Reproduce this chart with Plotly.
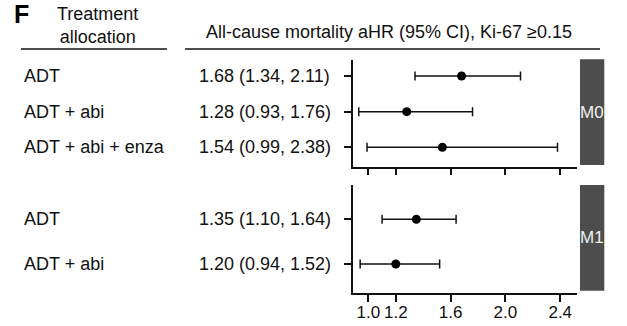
import plotly.graph_objects as go
from plotly.subplots import make_subplots

W, H = 627, 326

# ---- data ----
m0_labels = ["ADT", "ADT + abi", "ADT + abi + enza"]
m0_hr = [1.68, 1.28, 1.54]
m0_lo = [1.34, 0.93, 0.99]
m0_hi = [2.11, 1.76, 2.38]
m0_pos = [3, 2, 1]

m1_labels = ["ADT", "ADT + abi"]
m1_hr = [1.35, 1.20]
m1_lo = [1.10, 0.94]
m1_hi = [1.64, 1.52]
m1_pos = [2, 1]

panel_names = ["M0", "M1"]
x_ticks = [1.0, 1.2, 1.6, 2.0, 2.4]
x_ticktext = ["1.0", "1.2", "1.6", "2.0", "2.4"]
header_left = "Treatment<br>allocation"
header_right = "All-cause mortality aHR (95% CI), Ki-67 ≥0.15"
panel_letter = "F"

FONT = "Liberation Sans, Arial, sans-serif"
INK = "#111111"

def px_x(p):
    return p / W

def px_y(p):
    return 1 - p / H

fig = make_subplots(rows=2, cols=1, shared_xaxes=False, vertical_spacing=0.05)

def add_panel(row, hr, lo, hi, pos):
    fig.add_trace(
        go.Scatter(
            x=hr, y=pos, mode="markers",
            marker=dict(color="black", size=9),
            error_x=dict(
                type="data", symmetric=False,
                array=[h - m for h, m in zip(hi, hr)],
                arrayminus=[m - l for m, l in zip(hr, lo)],
                color=INK, thickness=1.5, width=4.5,
            ),
            showlegend=False, hoverinfo="skip",
        ),
        row=row, col=1,
    )

add_panel(1, m0_hr, m0_lo, m0_hi, m0_pos)
add_panel(2, m1_hr, m1_lo, m1_hi, m1_pos)

xdom = [px_x(353.3), px_x(576.7)]
xrange = [0.89, 2.52]
common_x = dict(
    range=xrange, domain=xdom, showline=True, linecolor=INK, linewidth=1.5,
    ticks="outside", ticklen=7, tickwidth=1.5, tickcolor=INK,
    tickvals=x_ticks, ticktext=x_ticktext, showgrid=False, zeroline=False,
    tickangle=0, automargin=False,
    tickfont=dict(family=FONT, size=17, color=INK),
)
fig.update_xaxes(**common_x, showticklabels=False, row=1, col=1)
fig.update_xaxes(**common_x, showticklabels=True, ticklabelstandoff=-4, row=2, col=1)

common_y = dict(
    showline=True, linecolor=INK, linewidth=1.5, ticks="outside", ticklen=8,
    tickwidth=1.5, tickcolor=INK, showticklabels=False, showgrid=False,
    zeroline=False, automargin=False,
)
fig.update_yaxes(**common_y, range=[0.457, 3.448], tickvals=m0_pos,
                 domain=[px_y(166.7), px_y(60)], row=1, col=1)
fig.update_yaxes(**common_y, range=[0.35, 2.77], tickvals=m1_pos,
                 domain=[px_y(293), px_y(185)], row=2, col=1)

annotations = []
def row_text(labels, hr, lo, hi, pos, yref):
    for lab, h, l, u, p in zip(labels, hr, lo, hi, pos):
        annotations.append(dict(
            text=lab, x=px_x(22), xref="paper", xanchor="left",
            y=p, yref=yref, yanchor="middle", showarrow=False,
            font=dict(family=FONT, size=18, color=INK)))
        annotations.append(dict(
            text=f"{h:.2f} ({l:.2f}, {u:.2f})", x=px_x(197), xref="paper",
            xanchor="left", y=p, yref=yref, yanchor="middle", showarrow=False,
            font=dict(family=FONT, size=18, color=INK)))

row_text(m0_labels, m0_hr, m0_lo, m0_hi, m0_pos, "y")
row_text(m1_labels, m1_hr, m1_lo, m1_hi, m1_pos, "y2")

# headers
annotations.append(dict(text=panel_letter, x=px_x(12), xref="paper", xanchor="left",
                        y=px_y(14), yref="paper", yanchor="middle", showarrow=False,
                        font=dict(family=FONT, size=25, color="black", weight="bold")))
annotations.append(dict(text=header_left, x=px_x(97), xref="paper", xanchor="center",
                        y=px_y(26), yref="paper", yanchor="middle", showarrow=False,
                        align="center",
                        font=dict(family=FONT, size=18, color=INK)))
annotations.append(dict(text=header_right, x=px_x(389), xref="paper", xanchor="center",
                        y=px_y(32), yref="paper", yanchor="middle", showarrow=False,
                        font=dict(family=FONT, size=18, color=INK)))

shapes = [
    dict(type="line", xref="paper", yref="paper", x0=px_x(21), x1=px_x(167),
         y0=px_y(49), y1=px_y(49), line=dict(color=INK, width=1.5)),
    dict(type="line", xref="paper", yref="paper", x0=px_x(185), x1=px_x(600),
         y0=px_y(49), y1=px_y(49), line=dict(color=INK, width=1.5)),
]

strips = [(59.3, 165.0), (185.0, 290.7)]
for name, (t, b) in zip(panel_names, strips):
    shapes.append(dict(type="rect", xref="paper", yref="paper",
                       x0=px_x(580), x1=px_x(604.3), y0=px_y(b), y1=px_y(t),
                       fillcolor="#4d4d4d", line=dict(width=0)))
    annotations.append(dict(text=name, x=px_x(592.2), xref="paper", xanchor="center",
                            y=px_y((t + b) / 2), yref="paper", yanchor="middle",
                            showarrow=False,
                            font=dict(family=FONT, size=17, color="#f0f0f0")))

fig.update_layout(
    width=W, height=H, margin=dict(l=0, r=0, t=0, b=0),
    paper_bgcolor="white", plot_bgcolor="white",
    annotations=annotations, shapes=shapes,
)

fig.write_html("out.html")
